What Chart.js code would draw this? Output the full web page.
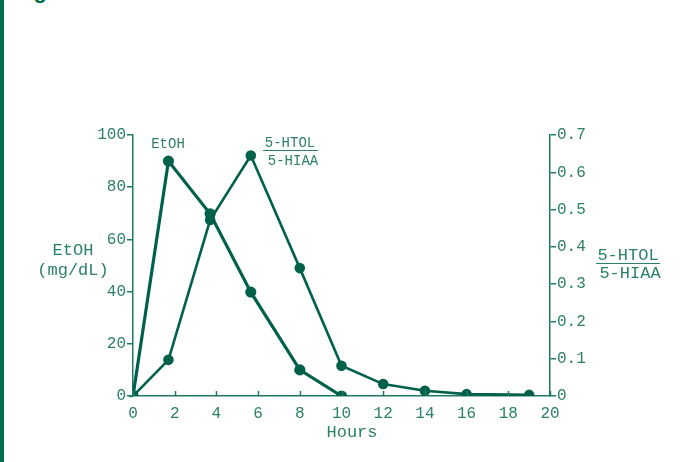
<!DOCTYPE html>
<html>
<head>
<meta charset="utf-8">
<script src="https://cdn.jsdelivr.net/npm/chart.js@4.4.0/dist/chart.umd.min.js"></script>
<style>
  html, body { margin: 0; padding: 0; background: #ffffff; overflow: hidden; }
  #wrap { position: relative; width: 696px; height: 462px; }
  #bar { position: absolute; left: 0; top: 0; width: 4px; height: 462px; background: #00704f; }
  #head { position: absolute; left: 14px; top: -22px; font: bold 22px "Liberation Sans", sans-serif; color: #00704f; }
  canvas { position: absolute; left: 0; top: 0; }
</style>
</head>
<body>
<div id="wrap">
  <div id="bar"></div>
  <div id="head">Figure</div>
  <canvas id="chart" width="696" height="462"></canvas>
</div>
<script>
// hours after dosing
const etohHours = [0, 1.7, 3.7, 5.65, 8, 10];
const etohValues = [0, 90, 69.8, 39.8, 10, 0];          // mg/dL
const ratioHours = [0, 1.7, 3.7, 5.65, 8, 10, 12, 14, 16, 19];
const ratioValues = [0, 0.097, 0.472, 0.645, 0.343, 0.081, 0.032, 0.014, 0.005, 0.003];
const xTicks = [0, 2, 4, 6, 8, 10, 12, 14, 16, 18, 20];

const lineColor = '#00614a';
const axisColor = '#1f7a62';
const textColor = '#2c8068';
const mono = "'Liberation Mono', 'Courier New', monospace";

const toPoints = (xs, ys) => xs.map((x, i) => ({ x: x, y: ys[i] }));

// x ticks point up into the plot, so draw them by hand
const innerTicks = {
  id: 'innerTicks',
  afterDraw(chart) {
    const ctx = chart.ctx;
    const x = chart.scales.x;
    const bottom = chart.chartArea.bottom;
    ctx.save();
    ctx.strokeStyle = axisColor;
    ctx.lineWidth = 1.5;
    xTicks.forEach(t => {
      const px = Math.round(x.getPixelForValue(t)) + 0.5;
      ctx.beginPath();
      ctx.moveTo(px, bottom);
      ctx.lineTo(px, bottom - 5);
      ctx.stroke();
    });
    // extend the base line a little left past the axis
    ctx.beginPath();
    ctx.moveTo(chart.chartArea.left - 4, bottom + 0.5);
    ctx.lineTo(chart.chartArea.left, bottom + 0.5);
    ctx.stroke();
    ctx.restore();
  }
};

const labels = {
  id: 'labels',
  afterDraw(chart) {
    const ctx = chart.ctx;
    ctx.save();
    ctx.fillStyle = textColor;
    ctx.textAlign = 'center';
    ctx.textBaseline = 'middle';

    ctx.font = '17px ' + mono;
    ctx.fillText('EtOH', 73, 250);
    ctx.fillText('(mg/dL)', 73, 270);
    ctx.fillText('Hours', 352, 432);

    ctx.fillText('5-HTOL', 628, 255);
    ctx.fillText('5-HIAA', 630, 273);
    ctx.strokeStyle = textColor;
    ctx.lineWidth = 1;
    ctx.beginPath();
    ctx.moveTo(596, 263.5);
    ctx.lineTo(660, 263.5);
    ctx.stroke();

    ctx.font = '14px ' + mono;
    ctx.fillText('EtOH', 168, 144);
    ctx.fillText('5-HTOL', 290, 143);
    ctx.fillText('5-HIAA', 293, 161);
    ctx.beginPath();
    ctx.moveTo(263, 150.5);
    ctx.lineTo(318, 150.5);
    ctx.stroke();
    ctx.restore();
  }
};

new Chart(document.getElementById('chart'), {
  type: 'line',
  data: {
    datasets: [
      {
        label: 'EtOH',
        data: toPoints(etohHours, etohValues),
        yAxisID: 'y',
        borderColor: lineColor,
        backgroundColor: lineColor,
        borderWidth: 3.2,
        pointRadius: 4,
        tension: 0
      },
      {
        label: '5-HTOL/5-HIAA',
        data: toPoints(ratioHours, ratioValues),
        yAxisID: 'y1',
        borderColor: lineColor,
        backgroundColor: lineColor,
        borderWidth: 2.6,
        pointRadius: 4,
        tension: 0
      }
    ]
  },
  options: {
    responsive: false,
    animation: false,
    layout: { padding: { top: 135, left: 0, right: 0, bottom: 0 } },
    plugins: { legend: { display: false }, tooltip: { enabled: false } },
    scales: {
      x: {
        type: 'linear',
        min: 0,
        max: 20,
        afterFit: s => { s.height = 66; },
        afterBuildTicks: s => { s.ticks = xTicks.map(v => ({ value: v })); },
        grid: { display: false },
        border: { display: true, color: axisColor, width: 1.5 },
        ticks: { color: textColor, font: { family: mono, size: 16 }, padding: 0, maxRotation: 0 }
      },
      y: {
        position: 'left',
        min: 0,
        max: 100,
        afterFit: s => { s.width = 133; },
        grid: { drawOnChartArea: false, tickLength: 6, color: axisColor, lineWidth: 1.5 },
        border: { color: axisColor, width: 1.5 },
        ticks: { stepSize: 20, color: textColor, font: { family: mono, size: 16 }, padding: 1 }
      },
      y1: {
        position: 'right',
        min: 0,
        max: 0.7,
        afterFit: s => { s.width = 146; },
        grid: { drawOnChartArea: false, tickLength: 6, color: axisColor, lineWidth: 1.5 },
        border: { color: axisColor, width: 1.5 },
        ticks: {
          stepSize: 0.1,
          color: textColor,
          font: { family: mono, size: 16 },
          padding: 1,
          callback: v => (v === 0 ? '0' : v.toFixed(1))
        }
      }
    }
  },
  plugins: [innerTicks, labels]
});
</script>
</body>
</html>
